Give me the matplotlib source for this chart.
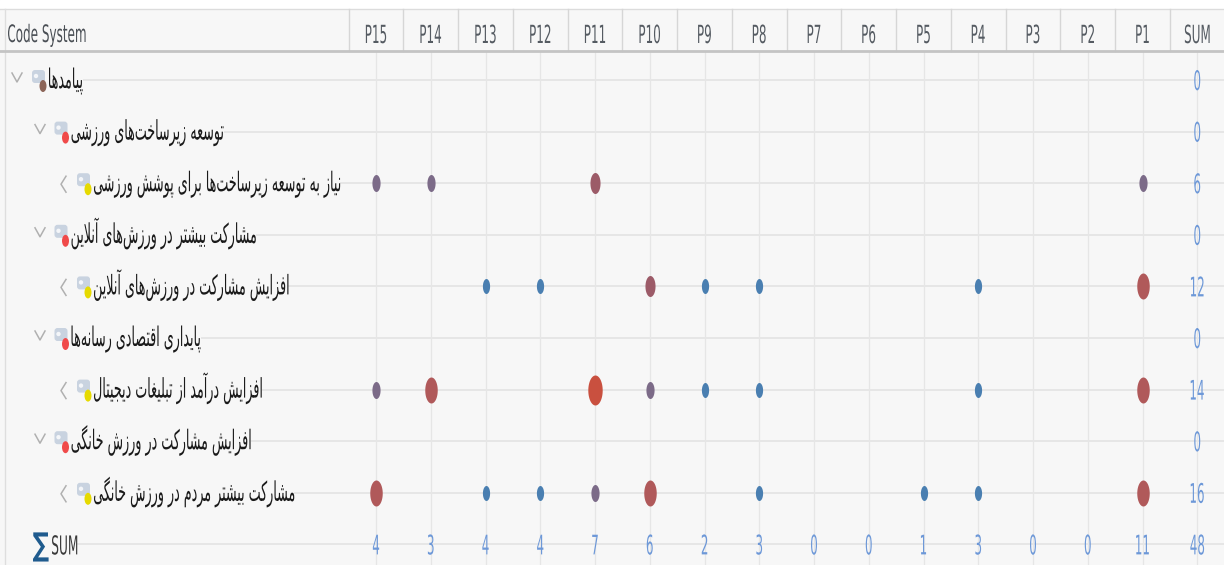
import numpy as np
import matplotlib
matplotlib.use('Agg')
import matplotlib.pyplot as plt
from matplotlib.textpath import TextPath
from matplotlib.font_manager import FontProperties
from matplotlib.patches import PathPatch, FancyBboxPatch, Ellipse, Circle
from matplotlib.path import Path
from matplotlib.transforms import Affine2D

columns = ['P15', 'P14', 'P13', 'P12', 'P11', 'P10', 'P9', 'P8',
           'P7', 'P6', 'P5', 'P4', 'P3', 'P2', 'P1']
codes = [
    'پیامدها',
    'توسعه زیرساخت\u200cهای ورزشی',
    'نیاز به توسعه زیرساخت\u200cها برای پوشش ورزشی',
    'مشارکت بیشتر در ورزش\u200cهای آنلاین',
    'افزایش مشارکت در ورزش\u200cهای آنلاین',
    'پایداری اقتصادی رسانه\u200cها',
    'افزایش درآمد از تبلیغات دیجیتال',
    'افزایش مشارکت در ورزش خانگی',
    'مشارکت بیشتر مردم در ورزش خانگی',
]
levels = [0, 1, 2, 1, 2, 1, 2, 1, 2]
code_colors = ['#8c6558', '#f04a4a', '#e6da00', '#f04a4a', '#e6da00',
               '#f04a4a', '#e6da00', '#f04a4a', '#e6da00']
hits = [
    [0, 0, 0, 0, 0, 0, 0, 0, 0, 0, 0, 0, 0, 0, 0],
    [0, 0, 0, 0, 0, 0, 0, 0, 0, 0, 0, 0, 0, 0, 0],
    [2, 2, 0, 0, 3, 0, 0, 0, 0, 0, 0, 0, 0, 0, 2],
    [0, 0, 0, 0, 0, 0, 0, 0, 0, 0, 0, 0, 0, 0, 0],
    [0, 0, 1, 1, 0, 3, 1, 1, 0, 0, 0, 1, 0, 0, 4],
    [0, 0, 0, 0, 0, 0, 0, 0, 0, 0, 0, 0, 0, 0, 0],
    [2, 4, 0, 0, 5, 2, 1, 1, 0, 0, 0, 1, 0, 0, 4],
    [0, 0, 0, 0, 0, 0, 0, 0, 0, 0, 0, 0, 0, 0, 0],
    [4, 0, 1, 1, 2, 4, 0, 1, 0, 0, 1, 1, 0, 0, 4],
]
row_sums = [0, 0, 6, 0, 12, 0, 14, 0, 16]
col_sums = [4, 3, 4, 4, 7, 6, 2, 3, 0, 0, 1, 3, 0, 0, 11]
total = 48

# symbol style per hit class
dot_color = {1: '#4a7fb1', 2: '#7c6b88', 3: '#9c5b68', 4: '#b0595a', 5: '#c9503f'}
dot_height = {1: 15, 2: 17, 3: 21, 4: 26, 5: 30}

# ---- minimal Arabic/Persian shaping (matplotlib has no text shaping) ----
JOIN = {  # letter: (base of presentation forms, dual joining)
    'ا': (0xFE8D, False), 'آ': (0xFE81, False), 'ب': (0xFE8F, True),
    'پ': (0xFB56, True), 'ت': (0xFE95, True), 'ث': (0xFE99, True),
    'ج': (0xFE9D, True), 'چ': (0xFB7A, True), 'ح': (0xFEA1, True),
    'خ': (0xFEA5, True), 'د': (0xFEA9, False), 'ذ': (0xFEAB, False),
    'ر': (0xFEAD, False), 'ز': (0xFEAF, False), 'ژ': (0xFB8A, False),
    'س': (0xFEB1, True), 'ش': (0xFEB5, True), 'ص': (0xFEB9, True),
    'ض': (0xFEBD, True), 'ط': (0xFEC1, True), 'ظ': (0xFEC5, True),
    'ع': (0xFEC9, True), 'غ': (0xFECD, True), 'ف': (0xFED1, True),
    'ق': (0xFED5, True), 'ک': (0xFB8E, True), 'ك': (0xFED9, True),
    'گ': (0xFB92, True), 'ل': (0xFEDD, True), 'م': (0xFEE1, True),
    'ن': (0xFEE5, True), 'ه': (0xFEE9, True), 'و': (0xFEED, False),
    'ی': (0xFBFC, True), 'ي': (0xFEF1, True),
}


def shape(text):
    out = []
    i = 0
    n = len(text)
    while i < n:
        ch = text[i]
        if ch not in JOIN:
            if ch != '\u200c':
                out.append(ch)
            i += 1
            continue
        prev = text[i - 1] if i > 0 else ''
        prev_joins = prev in JOIN and JOIN[prev][1]
        if ch == 'ل' and i + 1 < n and text[i + 1] in ('ا', 'آ'):
            base = 0xFEFB if text[i + 1] == 'ا' else 0xFEF5
            out.append(chr(base + (1 if prev_joins else 0)))
            i += 2
            continue
        base, dual = JOIN[ch]
        nxt = text[i + 1] if i + 1 < n else ''
        next_joins = dual and nxt in JOIN
        if prev_joins and next_joins:
            form = 3
        elif prev_joins:
            form = 1
        elif next_joins:
            form = 2
        else:
            form = 0
        out.append(chr(base + form))
        i += 1
    return ''.join(reversed(out))


def draw_text(ax, x, y, s, size, color, sx, ha='left', weight='normal'):
    # text drawn as a path so it can be condensed horizontally like the original
    tp = TextPath((0, 0), s, size=size,
                  prop=FontProperties(family='DejaVu Sans', weight=weight))
    ext = tp.get_extents()
    if ha == 'left':
        dx = -ext.x0
    elif ha == 'center':
        dx = -(ext.x0 + ext.x1) / 2
    else:
        dx = -ext.x1
    tr = Affine2D().translate(dx, 0).scale(sx, -1).translate(x, y)
    path = tr.transform_path(tp)
    ax.add_patch(PathPatch(path, facecolor=color, edgecolor='none', lw=0, zorder=5))
    return path.get_extents().x1


# ---- layout (pixels) ----
W, H = 1224, 565
X0, DX = 376, 54.75
Y0, DY = 80, 51.6
HEAD_TOP, HEAD_BOT, HEAD_Y = 9, 51, 33
ncol = len(columns)
nrow = len(codes)
col_x = X0 + DX * np.arange(ncol + 1)      # last one is SUM column
row_y = Y0 + DY * np.arange(nrow + 1)      # last one is SUM row

fig = plt.figure(figsize=(W / 100, H / 100), dpi=100)
fig.patch.set_facecolor('#f7f7f7')
ax = fig.add_axes([0, 0, 1, 1])
ax.set_xlim(0, W)
ax.set_ylim(H, 0)
ax.axis('off')

grid_c = '#e6e6e6'
ax.axhspan(0, HEAD_TOP, color='white', zorder=0)
ax.plot([0, W], [HEAD_TOP, HEAD_TOP], color='#dcdcdc', lw=1.0, zorder=1)
ax.plot([0, W], [HEAD_BOT, HEAD_BOT], color='#c4c4c4', lw=2.0, zorder=3)
ax.plot([5, 5], [HEAD_TOP, H], color='#dedede', lw=1.0, zorder=1)
for bx in col_x - DX / 2:
    ax.plot([bx, bx], [HEAD_TOP, HEAD_BOT], color='#d6d6d6', lw=1.0, zorder=1)
for cx in col_x:
    ax.plot([cx, cx], [HEAD_BOT, H], color=grid_c, lw=0.9, zorder=1)

# header
draw_text(ax, 8, HEAD_Y + 9, 'Code System', 24, '#4a4f55', 0.5)
for cx, lab in zip(col_x, columns + ['SUM']):
    draw_text(ax, cx, HEAD_Y + 10, lab, 25, '#555b62', 0.48, ha='center')

# code tree
for j, (name, lev, cc) in enumerate(zip(codes, levels, code_colors)):
    cy = row_y[j]
    chx = 17 + 23 * lev
    if lev < 2:
        ax.plot([chx - 5, chx, chx + 5], [cy - 7, cy + 2, cy - 7],
                color='#b0b0b0', lw=1.1, zorder=4)
    else:
        ax.plot([chx + 3, chx - 2, chx + 3], [cy - 7, cy + 1, cy + 9],
                color='#b0b0b0', lw=1.1, zorder=4)
    ix = 32 + 22.5 * lev
    ax.add_patch(FancyBboxPatch((ix, cy - 10), 13, 13, boxstyle='round,pad=0,rounding_size=3',
                                facecolor='#c9d3e0', edgecolor='none', zorder=4))
    ax.add_patch(Circle((ix + 4, cy - 4), 2.2, facecolor='#f4f6f9', edgecolor='none', zorder=4))
    ax.add_patch(Ellipse((ix + 11, cy + 6), 7, 12, facecolor=cc, edgecolor='none', zorder=4))
    end = draw_text(ax, ix + 17, cy + 8, shape(name), 27, '#1a1a1a', 0.47)
    ax.plot([end + 1, W], [cy, cy], color=grid_c, lw=1.4, zorder=1)

# sum row label
sy = row_y[-1]
draw_text(ax, 33, sy + 11, '\u2211', 32, '#1f5b8e', 0.72, weight='bold')
end = draw_text(ax, 52, sy + 10, 'SUM', 26, '#3a3a3a', 0.47)
ax.plot([end + 1, W], [sy, sy], color=grid_c, lw=1.4, zorder=1)

# ellipse symbols
t = np.linspace(0, 2 * np.pi, 64)
ell = Path(np.column_stack([0.48 * np.cos(t), np.sin(t)]), closed=True)
for j, row in enumerate(hits):
    for i, v in enumerate(row):
        if v > 0:
            ax.scatter(col_x[i], row_y[j], s=(dot_height[v] * 0.72) ** 2, marker=ell,
                       color=dot_color[v], linewidths=0, zorder=6)

# sums
sum_c = '#6d98d8'
for j, v in enumerate(row_sums):
    draw_text(ax, col_x[-1], row_y[j] + 10, str(v), 27, sum_c, 0.44, ha='center')
for i, v in enumerate(col_sums):
    draw_text(ax, col_x[i], sy + 10, str(v), 27, sum_c, 0.44, ha='center')
draw_text(ax, col_x[-1], sy + 10, str(total), 27, sum_c, 0.44, ha='center')

fig.savefig('out.png', dpi=100, facecolor=fig.get_facecolor())
